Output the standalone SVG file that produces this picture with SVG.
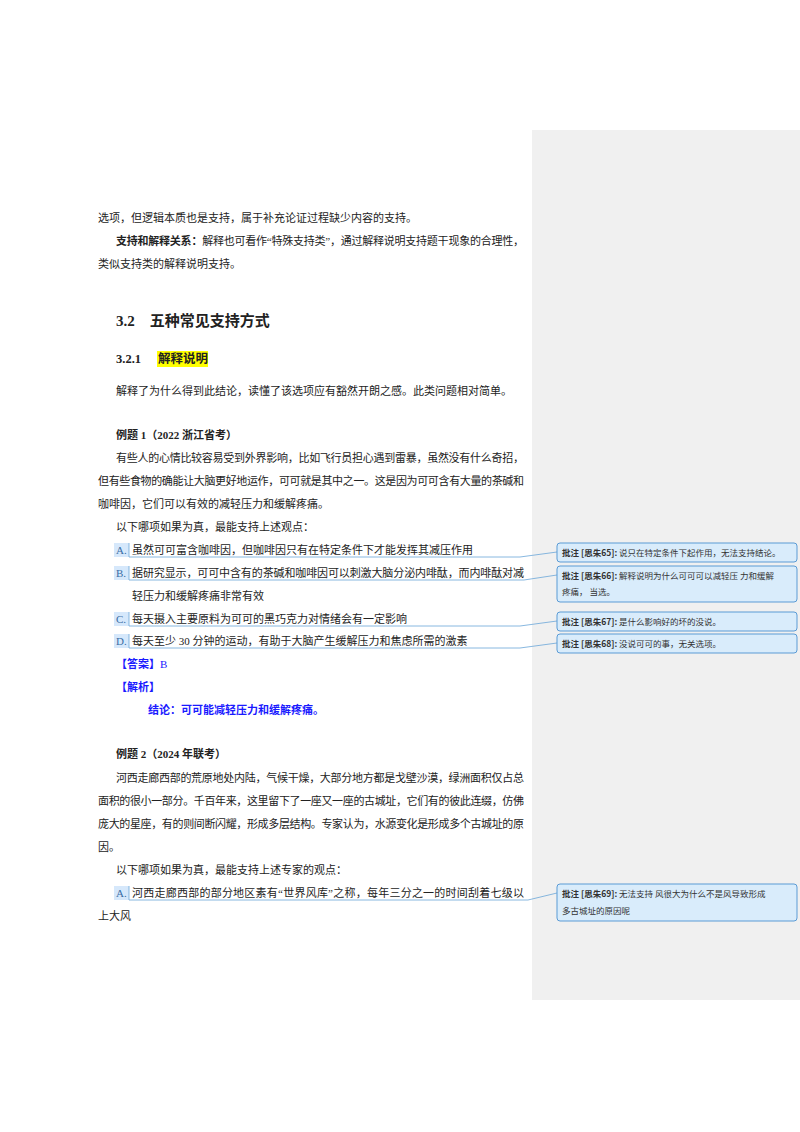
<svg xmlns="http://www.w3.org/2000/svg" width="800" height="1132" viewBox="0 0 800 1132">
<style>
text{font-family:"Liberation Serif","Noto Sans CJK SC",serif;font-size:11px;fill:#222}
.b{font-weight:bold}
.blue{fill:#1a1aff;font-weight:bold}
.lab{fill:#3a6ea5}
.hl{fill:#d6e8fb}
.cb{fill:#d9ecfb;stroke:#5b9bd5;stroke-width:1}
.ct{font-family:"Noto Sans CJK SC",sans-serif;font-size:8.5px;fill:#333}
.cn{fill:none;stroke:#6aa6d8;stroke-width:0.8}
</style>
<rect width="800" height="1132" fill="#fff"/>
<rect x="532" y="130" width="268" height="870" fill="#f0f0f0"/>
<g id="body">
<text x="98" y="222">选项，但逻辑本质也是支持，属于补充论证过程缺少内容的支持。</text>
<text x="116" y="245" textLength="408" lengthAdjust="spacing"><tspan class="b">支持和解释关系：</tspan>解释也可看作“特殊支持类”，通过解释说明支持题干现象的合理性，</text>
<text x="98" y="268">类似支持类的解释说明支持。</text>
<text x="116" y="326" class="b" style="font-size:15px">3.2　五种常见支持方式</text>
<rect x="157" y="351" width="51" height="16" fill="#ffff00"/>
<text x="116" y="363" class="b" style="font-size:12.5px">3.2.1　<tspan x="158">解释说明</tspan></text>
<text x="116" y="395">解释了为什么得到此结论，读懂了该选项应有豁然开朗之感。此类问题相对简单。</text>
<text x="116" y="439" class="b">例题 1（2022 浙江省考）</text>
<text x="116" y="462" textLength="408" lengthAdjust="spacing">有些人的心情比较容易受到外界影响，比如飞行员担心遇到雷暴，虽然没有什么奇招，</text>
<text x="98" y="485" textLength="426" lengthAdjust="spacing">但有些食物的确能让大脑更好地运作，可可就是其中之一。这是因为可可含有大量的茶碱和</text>
<text x="98" y="508">咖啡因，它们可以有效的减轻压力和缓解疼痛。</text>
<text x="116" y="531">以下哪项如果为真，最能支持上述观点：</text>
</g>
<g id="options1">
<rect class="hl" x="114" y="543" width="15" height="14"/>
<rect class="hl" x="114" y="566" width="15" height="14"/>
<rect class="hl" x="114" y="612" width="15" height="14"/>
<rect class="hl" x="114" y="634" width="15" height="14"/>
<text x="116" y="554" class="lab">A.</text><text x="132" y="554">虽然可可富含咖啡因，但咖啡因只有在特定条件下才能发挥其减压作用</text>
<text x="116" y="577" class="lab">B.</text><text x="132" y="577" textLength="392" lengthAdjust="spacing">据研究显示，可可中含有的茶碱和咖啡因可以刺激大脑分泌内啡酞，而内啡酞对减</text>
<text x="132" y="600">轻压力和缓解疼痛非常有效</text>
<text x="116" y="623" class="lab">C.</text><text x="132" y="623">每天摄入主要原料为可可的黑巧克力对情绪会有一定影响</text>
<text x="116" y="645" class="lab">D.</text><text x="132" y="645">每天至少 30 分钟的运动，有助于大脑产生缓解压力和焦虑所需的激素</text>
<text x="116" y="668" class="blue">【答案】<tspan style="font-weight:normal">B</tspan></text>
<text x="116" y="691" class="blue">【解析】</text>
<text x="148" y="714" class="blue">结论：可可能减轻压力和缓解疼痛。</text>
</g>
<g id="example2">
<text x="116" y="758" class="b">例题 2（2024 年联考）</text>
<text x="116" y="782" textLength="408" lengthAdjust="spacing">河西走廊西部的荒原地处内陆，气候干燥，大部分地方都是戈壁沙漠，绿洲面积仅占总</text>
<text x="98" y="805" textLength="426" lengthAdjust="spacing">面积的很小一部分。千百年来，这里留下了一座又一座的古城址，它们有的彼此连缀，仿佛</text>
<text x="98" y="828" textLength="426" lengthAdjust="spacing">庞大的星座，有的则间断闪耀，形成多层结构。专家认为，水源变化是形成多个古城址的原</text>
<text x="98" y="851">因。</text>
<text x="116" y="874">以下哪项如果为真，最能支持上述专家的观点：</text>
<rect class="hl" x="114" y="886" width="15" height="14"/>
<text x="116" y="897" class="lab">A.</text><text x="132" y="897" textLength="392" lengthAdjust="spacing">河西走廊西部的部分地区素有“世界风库”之称，每年三分之一的时间刮着七级以</text>
<text x="98" y="920">上大风</text>
</g>
<g id="connectors">
<path class="cn" d="M129 543V557H520L557 552"/>
<path class="cn" d="M129 566V580H524L557 575"/>
<path class="cn" d="M129 612V626H520L557 621"/>
<path class="cn" d="M129 634V648H520L557 643"/>
<path class="cn" d="M129 886V900H528L557 893"/>
</g>
<g id="c65"><rect class="cb" x="557" y="543" width="240" height="19" rx="3"/><text class="ct" x="562" y="556"><tspan font-weight="bold">批注 [思朱65]:</tspan> 说只在特定条件下起作用，无法支持结论。</text></g>
<g id="c66"><rect class="cb" x="557" y="566" width="240" height="36" rx="3"/><text class="ct" x="562" y="579"><tspan font-weight="bold">批注 [思朱66]:</tspan> 解释说明为什么可可可以减轻压 力和缓解</text><text class="ct" x="562" y="595">疼痛，  当选。</text></g>
<g id="c67"><rect class="cb" x="557" y="612" width="240" height="19" rx="3"/><text class="ct" x="562" y="625"><tspan font-weight="bold">批注 [思朱67]:</tspan> 是什么影响好的坏的没说。</text></g>
<g id="c68"><rect class="cb" x="557" y="634" width="240" height="19" rx="3"/><text class="ct" x="562" y="647"><tspan font-weight="bold">批注 [思朱68]:</tspan> 没说可可的事，无关选项。</text></g>
<g id="c69"><rect class="cb" x="557" y="884" width="240" height="37" rx="3"/><text class="ct" x="562" y="897"><tspan font-weight="bold">批注 [思朱69]:</tspan> 无法支持  风很大为什么不是风导致形成</text><text class="ct" x="562" y="914">多古城址的原因呢</text></g>
</svg>
